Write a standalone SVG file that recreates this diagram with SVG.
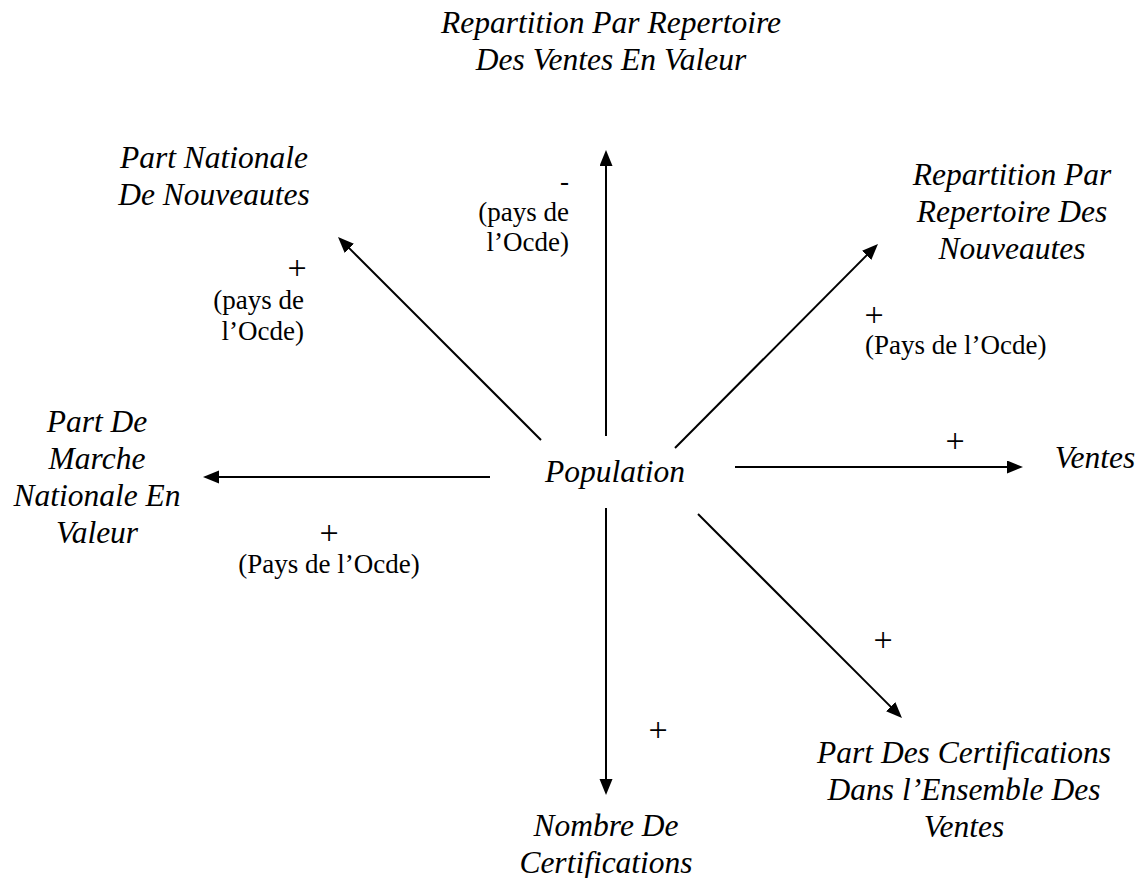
<svg xmlns="http://www.w3.org/2000/svg" width="1142" height="878" viewBox="0 0 1142 878">
<style>
.node{font-family:"Liberation Serif","Times New Roman",serif;font-style:italic;font-size:31.5px;fill:#000;text-anchor:middle}
.lbl{font-family:"Liberation Serif","Times New Roman",serif;font-size:27px;fill:#000}
.sign{font-family:"Liberation Serif","Times New Roman",serif;font-size:34px;fill:#000;text-anchor:middle}
.edge{stroke:#000;stroke-width:2;fill:none;marker-end:url(#ah)}
</style>
<defs>
<marker id="ah" markerUnits="userSpaceOnUse" markerWidth="18" markerHeight="14" refX="2" refY="6.5" orient="auto">
<path d="M0,0 L16,6.5 L0,13 z" fill="#000"/>
</marker>
</defs>
<rect width="1142" height="878" fill="#fff"/>
<g id="connectors">
<line class="edge" x1="606" y1="436" x2="606" y2="164"/>
<line class="edge" x1="541" y1="440" x2="347.9" y2="246.9"/>
<line class="edge" x1="675" y1="448" x2="868.1" y2="253.9"/>
<line class="edge" x1="735" y1="467" x2="1009" y2="467"/>
<line class="edge" x1="490" y1="477" x2="217" y2="477"/>
<line class="edge" x1="606" y1="508" x2="606" y2="781"/>
<line class="edge" x1="698" y1="514" x2="892.1" y2="708.1"/>
</g>
<g id="edge-labels">
<text class="lbl" text-anchor="end" x="569" y="190">-</text>
<text class="lbl" text-anchor="end" x="569" y="221">(pays de</text>
<text class="lbl" text-anchor="end" x="569" y="251">l’Ocde)</text>
<text class="sign" x="297" y="279">+</text>
<text class="lbl" text-anchor="end" x="304" y="309">(pays de</text>
<text class="lbl" text-anchor="end" x="304" y="340">l’Ocde)</text>
<text class="sign" x="874" y="326">+</text>
<text class="lbl" x="865" y="354">(Pays de l’Ocde)</text>
<text class="sign" x="955" y="452">+</text>
<text class="sign" x="329" y="544">+</text>
<text class="lbl" text-anchor="middle" x="329" y="573">(Pays de l’Ocde)</text>
<text class="sign" x="883" y="651">+</text>
<text class="sign" x="658" y="741">+</text>
</g>
<g id="population"><text class="node" x="615" y="482">Population</text></g>
<g id="repartition-ventes"><text class="node" x="611" y="33">Repartition Par Repertoire</text><text class="node" x="611" y="70">Des Ventes En Valeur</text></g>
<g id="part-nationale-nouveautes"><text class="node" x="214" y="168">Part Nationale</text><text class="node" x="214" y="205">De Nouveautes</text></g>
<g id="repartition-nouveautes"><text class="node" x="1012" y="185">Repartition Par</text><text class="node" x="1012" y="222">Repertoire Des</text><text class="node" x="1012" y="259">Nouveautes</text></g>
<g id="ventes"><text class="node" x="1095" y="468">Ventes</text></g>
<g id="part-marche"><text class="node" x="97" y="432">Part De</text><text class="node" x="97" y="469">Marche</text><text class="node" x="97" y="506">Nationale En</text><text class="node" x="97" y="543">Valeur</text></g>
<g id="part-certifications"><text class="node" x="964" y="763">Part Des Certifications</text><text class="node" x="964" y="800">Dans l’Ensemble Des</text><text class="node" x="964" y="837">Ventes</text></g>
<g id="nombre-certifications"><text class="node" x="606" y="836">Nombre De</text><text class="node" x="606" y="873">Certifications</text></g>
</svg>
